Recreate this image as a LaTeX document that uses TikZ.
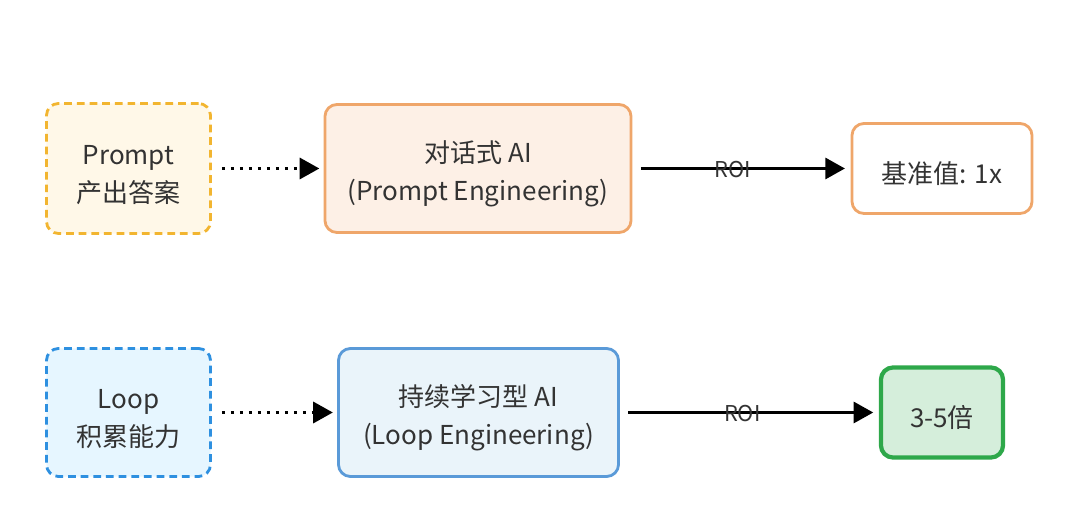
\documentclass[tikz,border=0pt]{standalone}
\usepackage{fontspec}
\setmainfont{Noto Sans CJK SC}
\usetikzlibrary{arrows.meta}
\definecolor{txtgray}{HTML}{333333}
\definecolor{promptline}{HTML}{F2B530}
\definecolor{promptfill}{HTML}{FFF8E8}
\definecolor{chatline}{HTML}{EFA66A}
\definecolor{chatfill}{HTML}{FDF0E6}
\definecolor{loopline}{HTML}{2E90E0}
\definecolor{loopfill}{HTML}{E6F6FF}
\definecolor{contline}{HTML}{5A9AD8}
\definecolor{contfill}{HTML}{EAF4FA}
\definecolor{gainline}{HTML}{2EA84A}
\definecolor{gainfill}{HTML}{D5EEDB}
\newcommand{\toprule}{\rule{0pt}{23pt}}
\tikzset{
  box/.style={rounded corners=0.3cm, line width=2pt, align=center,
    text=txtgray, font=\fontsize{18.5}{26.5}\selectfont, inner sep=0pt},
  dashbox/.style={box, dash pattern=on 5.5pt off 3.5pt},
  dotarrow/.style={line width=2.2pt, dash pattern=on 2.2pt off 4.2pt,
    -{Triangle[length=14pt,width=15pt]}, shorten >=-1pt},
  roiarrow/.style={line width=2.2pt, -{Triangle[length=14pt,width=15pt]}},
  roi/.style={font=\fontsize{15.5}{17}\selectfont, text=txtgray}
}
\begin{document}
\begin{tikzpicture}[x=0.025cm,y=-0.025cm]
\useasboundingbox (0,0) rectangle (1080,523);
% top row
\node[dashbox, draw=promptline, fill=promptfill, minimum width=4.1cm, minimum height=3.25cm]
  (prompt) at (128.5,168.5) {\toprule Prompt\\产出答案};
\node[box, draw=chatline, fill=chatfill, minimum width=7.65cm, minimum height=3.2cm]
  (chat) at (478,168.5) {\toprule 对话式 AI\\(Prompt Engineering)};
\node[box, draw=chatline, fill=white, minimum width=4.5cm, minimum height=2.25cm]
  (base) at (942,168.5) {\toprule 基准值: 1x};
% bottom row
\node[dashbox, draw=loopline, fill=loopfill, minimum width=4.1cm, minimum height=3.2cm]
  (loop) at (128.5,412.5) {\toprule Loop\\积累能力};
\node[box, draw=contline, fill=contfill, minimum width=7cm, minimum height=3.2cm]
  (cont) at (478.5,412.5) {\toprule 持续学习型 AI\\(Loop Engineering)};
\node[box, line width=3pt, draw=gainline, fill=gainfill, minimum width=3.05cm, minimum height=2.25cm]
  (gain) at (942,412.5) {\toprule 3-5倍};
% connectors
\draw[dotarrow] ([xshift=7pt]prompt.east) -- ([xshift=-4pt]chat.west);
\draw[roiarrow] ([xshift=6pt]chat.east) -- node[roi, pos=0.45, yshift=-1pt] (roitop) {ROI} ([xshift=-4pt]base.west);
\draw[dotarrow] ([xshift=7pt]loop.east) -- ([xshift=-4pt]cont.west);
\draw[roiarrow] ([xshift=6pt]cont.east) -- node[roi, pos=0.465, yshift=-1pt] (roibot) {ROI} ([xshift=-4pt]gain.west);
\end{tikzpicture}
\end{document}
